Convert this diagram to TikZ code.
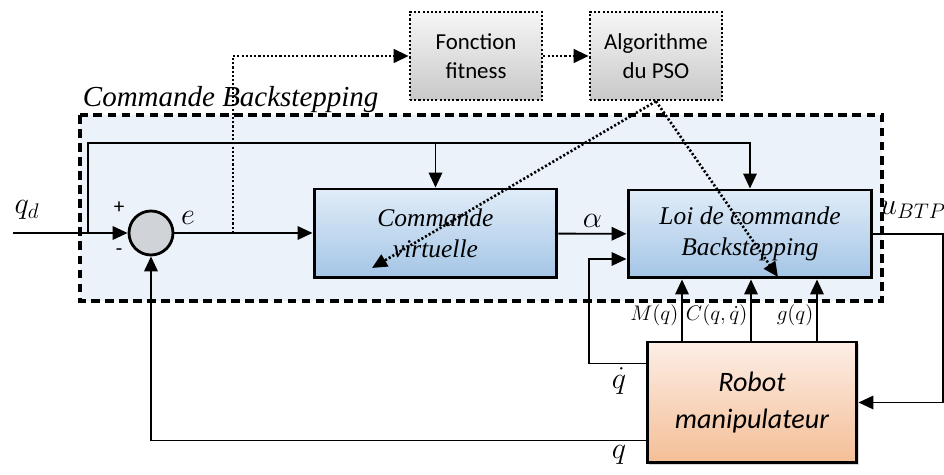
\documentclass[tikz,border=0pt]{standalone}
\usepackage{fontspec}
\setmainfont{Liberation Serif}
\newfontfamily\calibri{Carlito}
\usetikzlibrary{arrows.meta,shadows}

\definecolor{fondbleu}{RGB}{235,242,250}
\definecolor{bleuhaut}{RGB}{224,236,248}
\definecolor{bleubas}{RGB}{164,197,230}
\definecolor{grishaut}{RGB}{246,246,246}
\definecolor{grisbas}{RGB}{200,200,200}
\definecolor{orhaut}{RGB}{252,238,230}
\definecolor{orbas}{RGB}{244,190,150}
\definecolor{somme}{RGB}{208,211,216}

\tikzset{
  bloc/.style={draw,line width=1.7pt,top color=bleuhaut,bottom color=bleubas,
    minimum width=4.86cm,minimum height=1.78cm,align=center,
    font=\fontsize{14.5}{18}\selectfont\itshape},
  optim/.style={draw,line width=1.5pt,dash pattern=on 1.2pt off 1.2pt,
    top color=grishaut,bottom color=grisbas,minimum width=2.64cm,
    minimum height=1.76cm,align=center,font=\calibri\fontsize{13}{16.5}\selectfont},
  robot/.style={draw,line width=1.7pt,top color=orhaut,bottom color=orbas,
    minimum width=4.2cm,minimum height=2.42cm,align=center,
    drop shadow={shadow xshift=1pt,shadow yshift=-1pt,opacity=0.3,fill=gray},
    font=\calibri\fontsize{16}{21.5}\selectfont\itshape},
  sommeur/.style={circle,draw,line width=1.6pt,fill=somme,minimum size=0.88cm,inner sep=0pt},
  pointille/.style={->,line width=1.5pt,dash pattern=on 1.2pt off 1.2pt},
  grand/.style={inner sep=1pt,font=\fontsize{18.5}{21}\selectfont},
  petit/.style={font=\fontsize{13}{15}\selectfont},
}

\begin{document}
\begin{tikzpicture}[x=0.02cm,y=-0.02cm,line width=1.1pt,>={Triangle[length=3mm,width=2.7mm]}]
  \useasboundingbox (0,0) rectangle (944,475);
  % zone de la commande
  \draw[fill=fondbleu,line width=1.9pt,dash pattern=on 5pt off 3pt] (80,115) rectangle (882,301);
  \node[anchor=base west,inner sep=0pt,font=\fontsize{16.5}{19}\selectfont\itshape] (titre) at (82,107) {Commande Backstepping};

  \node[sommeur] (s) at (151,233) {};
  \node[bloc] (cv) at (435.5,233.5) {Commande\\virtuelle};
  \node[bloc,minimum width=4.88cm,minimum height=1.76cm] (loi) at (750,234) {Loi de commande\\Backstepping};
  \node[robot] (rob) at (752,402.5) {Robot\\manipulateur};
  \node[optim] (fit) at (476,56) {Fonction\\fitness};
  \node[optim] (algo) at (656,56) {Algorithme\\du PSO};

  \coordinate (qd) at (13,233);
  \coordinate (br) at (88,233);
  \coordinate (haut) at (88,143);
  \coordinate (pt) at (233,233);
  \coordinate (sortie) at (943,402.5);
  \coordinate (c1) at (372,268);
  \coordinate (c2) at (778,277);

  \draw[->] (qd) -- (s);
  \node[grand] (lqd) at (27,210) {$q_d$};
  \node[font=\calibri\fontsize{12}{14}\selectfont] (plus) at (119,208) {+};
  \node[font=\calibri\fontsize{12}{14}\selectfont] (moins) at (119,252) {-};
  \draw[->] (br) -- (haut) -| (loi.north);
  \draw[->] (cv.north |- haut) -- (cv.north);
  \draw[->] (s.east) -- (s.east -| cv.west);
  \node[grand] (le) at (188,218) {$e$};
  \draw[->] (cv) -- (loi) node[midway,above=2pt,grand]{$\alpha$};
  \draw[->] ([yshift=-0.46cm]rob.north west) -| ([xshift=-0.76cm,yshift=-0.5cm]loi.west) -- ([yshift=-0.5cm]loi.west);
  \draw[->] (loi.east) -| (sortie) -- (rob.east);
  \node[grand] (lu) at (913,210) {$u_{BTP}$};
  \foreach \x/\lab in {682/M(q),751/{C(q,\dot{q})},817/g(q)}
    \draw[->] (rob.north -| \x,0) -- (loi.south -| \x,0) node[pos=0.42,left=1.5pt,inner sep=0pt,petit]{$\lab$};
  \draw[->] ([yshift=0.48cm]rob.south west) -| (s);
  \node[grand] (lqp) at (619,381) {$\dot{q}$};
  \node[grand] (lq) at (619,455) {$q$};

  % boucle d'optimisation
  \draw[pointille] (pt) |- (fit.west);
  \draw[pointille] (fit) -- (algo);
  \draw[pointille] (algo.south) -- (c1);
  \draw[pointille] (algo.south) -- (c2);
\end{tikzpicture}
\end{document}
